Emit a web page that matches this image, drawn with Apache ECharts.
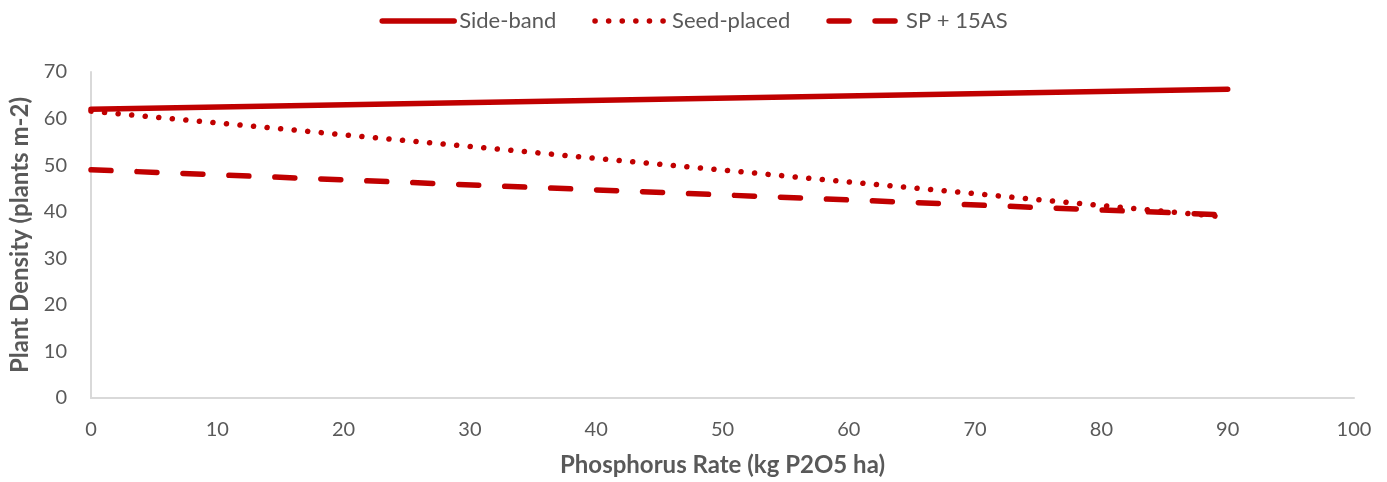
<!DOCTYPE html>
<html>
<head>
<meta charset="utf-8">
<script src="https://cdn.jsdelivr.net/npm/echarts@6/dist/echarts.min.js"></script>
<style>html,body{margin:0;padding:0;background:#fff;}#c{width:1387px;height:482px;}</style>
</head>
<body>
<div id="c"></div>
<script>
const xRates = [0, 90];
const sideBand = [62.0, 66.3];
const seedPlaced = [61.6, 38.8];
const sp15AS = [49.0, 39.3];
const seriesNames = ['Side-band', 'Seed-placed', 'SP + 15AS'];

const color = '#C00000';
const txt = '#595959';
const font = 'Lato';
function pts(ys){ return xRates.map((x,i)=>[x, ys[i]]); }

const chart = echarts.init(document.getElementById('c'));
chart.setOption({
  animation: false,
  legend: {
    top: 5, left: 'center', itemWidth: 72, itemHeight: 14, itemGap: 36,
    itemStyle: { opacity: 0 },
    lineStyle: { width: 5.5 },
    textStyle: { color: txt, fontSize: 22, fontFamily: font },
    data: seriesNames
  },
  grid: { left: 91, right: 33, top: 72, bottom: 84, containLabel: false, outerBoundsMode: 'none' },
  xAxis: {
    type: 'value', min: 0, max: 100, interval: 10,
    axisLine: { show: true, lineStyle: { color: '#D9D9D9', width: 2 } },
    axisTick: { show: false }, splitLine: { show: false },
    axisLabel: { color: txt, fontSize: 20, fontFamily: font, margin: 22 },
    name: 'Phosphorus Rate (kg P2O5 ha)', nameLocation: 'middle', nameGap: 55,
    nameTextStyle: { color: txt, fontSize: 24, fontWeight: 'bold', fontFamily: font }
  },
  yAxis: {
    type: 'value', min: 0, max: 70, interval: 10,
    axisLine: { show: true, lineStyle: { color: '#D9D9D9', width: 2 } },
    axisTick: { show: false }, splitLine: { show: false },
    axisLabel: { color: txt, fontSize: 20, fontFamily: font, margin: 24 },
    name: 'Plant Density (plants m-2)', nameLocation: 'middle', nameGap: 59,
    nameTextStyle: { color: txt, fontSize: 24, fontWeight: 'bold', fontFamily: font }
  },
  series: [
    { name: seriesNames[0], type: 'line', data: pts(sideBand), showSymbol: false, symbol: 'none',
      lineStyle: { color: color, width: 5.5, cap: 'round' }, itemStyle: { color: color } },
    { name: seriesNames[1], type: 'line', data: pts(seedPlaced), showSymbol: false, symbol: 'none',
      lineStyle: { color: color, width: 5.5, cap: 'round', type: [0.1, 13.5] }, itemStyle: { color: color } },
    { name: seriesNames[2], type: 'line', data: pts(sp15AS), showSymbol: false, symbol: 'none',
      lineStyle: { color: color, width: 5.5, cap: 'round', type: [20, 26] }, itemStyle: { color: color } }
  ]
});
</script>
</body>
</html>
